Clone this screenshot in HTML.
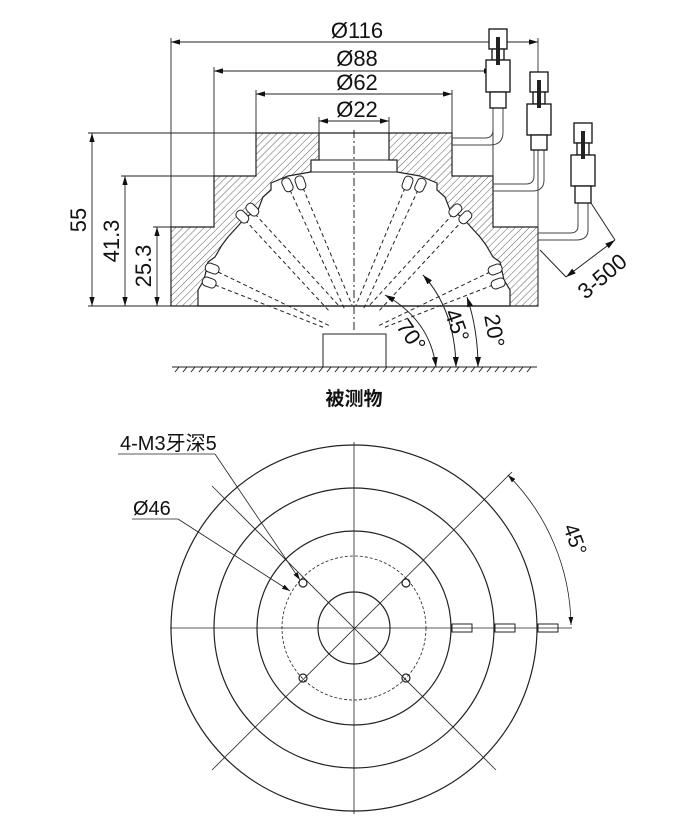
<!DOCTYPE html>
<html><head><meta charset="utf-8"><style>
html,body{margin:0;padding:0;background:#fff;}
svg{display:block}
text{font-family:"Liberation Sans","Noto Sans CJK SC",sans-serif;fill:#111}
</style></head><body>
<svg width="690" height="824" viewBox="0 0 690 824" xmlns="http://www.w3.org/2000/svg">
<defs>
<pattern id="h" width="5" height="5" patternUnits="userSpaceOnUse" patternTransform="rotate(45)">
<line x1="0" y1="0" x2="0" y2="5" stroke="#333" stroke-width="0.8"/>
</pattern>
<marker id="a" viewBox="0 0 10 6" refX="10" refY="3" markerWidth="10" markerHeight="6" orient="auto-start-reverse"><path d="M0,0 L10,3 L0,6z" fill="#111"/></marker>
</defs>
<g stroke="#222" stroke-width="0.9" fill="none">
<line x1="171" y1="42" x2="538" y2="42" marker-start="url(#a)" marker-end="url(#a)"/>
<line x1="214" y1="71" x2="493" y2="71" marker-start="url(#a)" marker-end="url(#a)"/>
<line x1="256" y1="94" x2="452" y2="94" marker-start="url(#a)" marker-end="url(#a)"/>
<line x1="319" y1="121" x2="389" y2="121" marker-start="url(#a)" marker-end="url(#a)"/>
<line x1="171" y1="38" x2="171" y2="227"/><line x1="538" y1="38" x2="538" y2="227"/>
<line x1="214" y1="67" x2="214" y2="176"/><line x1="493" y1="67" x2="493" y2="176"/>
<line x1="256" y1="90" x2="256" y2="133"/><line x1="452" y1="90" x2="452" y2="133"/>
<line x1="319" y1="117" x2="319" y2="133"/><line x1="389" y1="117" x2="389" y2="133"/>
<line x1="92" y1="133" x2="92" y2="306" marker-start="url(#a)" marker-end="url(#a)"/>
<line x1="125" y1="176" x2="125" y2="306" marker-start="url(#a)" marker-end="url(#a)"/>
<line x1="157" y1="227" x2="157" y2="306" marker-start="url(#a)" marker-end="url(#a)"/>
<line x1="88" y1="133" x2="256" y2="133"/>
<line x1="121" y1="176" x2="214" y2="176"/>
<line x1="153" y1="227" x2="171" y2="227"/>
<line x1="88" y1="306" x2="171" y2="306"/>
</g>
<path fill-rule="evenodd" fill="url(#h)" stroke="#222" stroke-width="1.2" d="M256,133 L452,133 L452,176 L493,176 L493,227 L538,227 L538,306 L171,306 L171,227 L214,227 L214,176 L256,176 Z
M319,133 L389,133 L389,160 L397,160 L397,172 L420,176 L437,183 L437,190 L445,197 L450,210 L462,217 L470,226 L480,237 L486,245 L493,257 L500,262 L504,280 L510,290 L510,306 L198,306 L198,290 L204,280 L208,262 L215,257 L222,245 L228,237 L238,226 L246,217 L258,210 L263,197 L271,190 L271,183 L288,176 L311,172 L311,160 L319,160 Z"/>
<g fill="none" stroke="#222" stroke-width="1">
<rect x="319" y="133" width="70" height="27"/>
<rect x="311" y="160" width="86" height="12"/>
<line x1="198" y1="306" x2="510" y2="306" stroke-width="1.3"/>
<line x1="354" y1="130" x2="354" y2="330" stroke-dasharray="8,3,2,3"/>
<g stroke-dasharray="4,3">
<line x1="290" y1="190" x2="345" y2="310"/><line x1="303" y1="188" x2="352" y2="305"/>
<line x1="418" y1="190" x2="363" y2="310"/><line x1="405" y1="188" x2="356" y2="305"/>
<line x1="245" y1="220" x2="330" y2="312"/><line x1="255" y1="214" x2="340" y2="307"/>
<line x1="463" y1="220" x2="378" y2="312"/><line x1="453" y1="214" x2="368" y2="307"/>
<line x1="218" y1="272" x2="330" y2="326"/><line x1="215" y1="285" x2="325" y2="328"/>
<line x1="490" y1="272" x2="378" y2="326"/><line x1="493" y1="285" x2="383" y2="328"/>
</g>
<g fill="#fff">
<rect x="283" y="178" width="9" height="14" rx="4" transform="rotate(-25 287 185)"/>
<rect x="296" y="176" width="9" height="14" rx="4" transform="rotate(-20 300 183)"/>
<rect x="416" y="178" width="9" height="14" rx="4" transform="rotate(25 420 185)"/>
<rect x="403" y="176" width="9" height="14" rx="4" transform="rotate(20 407 183)"/>
<rect x="238" y="210" width="9" height="14" rx="4" transform="rotate(-45 242 217)"/>
<rect x="248" y="203" width="9" height="14" rx="4" transform="rotate(-45 252 210)"/>
<rect x="461" y="210" width="9" height="14" rx="4" transform="rotate(45 465 217)"/>
<rect x="451" y="203" width="9" height="14" rx="4" transform="rotate(45 455 210)"/>
<rect x="208" y="262" width="9" height="14" rx="4" transform="rotate(-70 212 269)"/>
<rect x="205" y="276" width="9" height="14" rx="4" transform="rotate(-70 209 283)"/>
<rect x="491" y="262" width="9" height="14" rx="4" transform="rotate(70 495 269)"/>
<rect x="494" y="276" width="9" height="14" rx="4" transform="rotate(70 498 283)"/>
</g>
<rect x="323" y="334" width="63" height="33"/>
<line x1="172" y1="367" x2="537" y2="367"/>
<path d="M175,372 l4,-5 M183,372 l4,-5 M191,372 l4,-5 M199,372 l4,-5 M207,372 l4,-5 M215,372 l4,-5 M223,372 l4,-5 M231,372 l4,-5 M239,372 l4,-5 M247,372 l4,-5 M255,372 l4,-5 M263,372 l4,-5 M271,372 l4,-5 M279,372 l4,-5 M287,372 l4,-5 M295,372 l4,-5 M303,372 l4,-5 M311,372 l4,-5 M319,372 l4,-5 M327,372 l4,-5 M335,372 l4,-5 M343,372 l4,-5 M351,372 l4,-5 M359,372 l4,-5 M367,372 l4,-5 M375,372 l4,-5 M383,372 l4,-5 M391,372 l4,-5 M399,372 l4,-5 M407,372 l4,-5 M415,372 l4,-5 M423,372 l4,-5 M431,372 l4,-5 M439,372 l4,-5 M447,372 l4,-5 M455,372 l4,-5 M463,372 l4,-5 M471,372 l4,-5 M479,372 l4,-5 M487,372 l4,-5 M495,372 l4,-5 M503,372 l4,-5 M511,372 l4,-5 M519,372 l4,-5 M527,372 l4,-5"/>
<path d="M385,295 Q430,320 436,367" marker-start="url(#a)" marker-end="url(#a)"/>
<path d="M423,275 Q455,310 456,367" marker-start="url(#a)" marker-end="url(#a)"/>
<path d="M467,297 Q478,330 478,367" marker-start="url(#a)" marker-end="url(#a)"/>
<g stroke="#444">
<path d="M493,108 L493,130 Q493,138 485,138 L452,138 M503,108 L503,132 Q503,145 490,145 L452,145"/>
<path d="M534,150 L534,176 Q534,184 526,184 L493,184 M544,150 L544,180 Q544,191 532,191 L493,191"/>
<path d="M578,203 L578,226 Q578,233 570,233 L538,233 M588,203 L588,230 Q588,240 576,240 L538,240"/>
<line x1="538" y1="42" x2="538" y2="306"/>
</g>
<g stroke="#111" stroke-width="1.3" fill="#fff">
<rect x="489" y="29" width="18" height="20"/><rect x="492" y="49" width="12" height="11"/><rect x="486" y="60" width="24" height="32"/><rect x="490" y="92" width="16" height="16"/>
<rect x="530" y="72" width="18" height="20"/><rect x="533" y="92" width="12" height="12"/><rect x="527" y="104" width="24" height="31"/><rect x="531" y="135" width="16" height="15"/>
<rect x="574" y="123" width="18" height="20"/><rect x="577" y="143" width="12" height="12"/><rect x="571" y="155" width="24" height="31"/><rect x="575" y="186" width="16" height="17"/>
</g>
<g fill="#222" stroke="none"><rect x="496" y="37" width="4" height="28"/><rect x="537" y="80" width="4" height="28"/><rect x="581" y="131" width="4" height="28"/></g>
<line x1="540" y1="250" x2="566" y2="277"/><line x1="591" y1="203" x2="615" y2="240"/>
<line x1="566" y1="277" x2="615" y2="240" marker-start="url(#a)" marker-end="url(#a)"/>
</g>
<g font-size="22" text-anchor="middle">
<text x="357" y="38">Ø116</text>
<text x="357" y="66">Ø88</text>
<text x="357" y="90">Ø62</text>
<text x="357" y="117">Ø22</text>
<text transform="translate(86,220) rotate(-90)">55</text>
<text transform="translate(119,241) rotate(-90)">41.3</text>
<text transform="translate(151,266) rotate(-90)">25.3</text>
<text transform="translate(405,340) rotate(55)">70°</text>
<text transform="translate(450,328) rotate(70)">45°</text>
<text transform="translate(487,332) rotate(80)">20°</text>
<text transform="translate(607,282) rotate(-40)">3-500</text>
</g>
<text x="354" y="405" font-size="19" text-anchor="middle" font-weight="bold">被测物</text>
<g fill="none" stroke="#222" stroke-width="1.2">
<circle cx="354" cy="628" r="183"/>
<circle cx="354" cy="628" r="140"/>
<circle cx="354" cy="628" r="97"/>
<circle cx="354" cy="628" r="36"/>
<circle cx="354" cy="628" r="72" stroke-dasharray="3,2" stroke-width="0.8"/>
<circle cx="303" cy="583" r="4"/><circle cx="406" cy="583" r="4"/>
<circle cx="303" cy="678" r="4"/><circle cx="406" cy="678" r="4"/>
</g>
<g stroke="#222" stroke-width="0.8" fill="none">
<line x1="170" y1="628" x2="572" y2="628"/>
<line x1="354" y1="442" x2="354" y2="814"/>
<line x1="212" y1="486" x2="496" y2="770"/>
<line x1="212" y1="770" x2="512" y2="472"/>
<path d="M508,475 A217 217 0 0 1 571,625" marker-start="url(#a)" marker-end="url(#a)"/>
<g stroke="#222" stroke-width="1"><rect x="452" y="624" width="20" height="8"/><rect x="495" y="624" width="20" height="8"/><rect x="538" y="624" width="20" height="8"/></g>
<line x1="118" y1="454" x2="215" y2="454"/><line x1="215" y1="454" x2="300" y2="580" marker-end="url(#a)"/>
<line x1="132" y1="519" x2="178" y2="519"/><line x1="178" y1="519" x2="290" y2="591" marker-end="url(#a)"/>
</g>
<g font-size="20">
<text x="120" y="450">4-M3牙深5</text>
<text x="133" y="515">Ø46</text>
<text transform="translate(563,527) rotate(70)" font-size="21">45°</text>
</g>
</svg>
</body></html>
